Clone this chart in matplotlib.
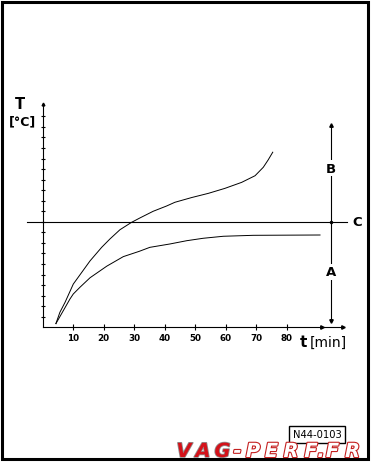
import matplotlib.pyplot as plt
from matplotlib.patches import Rectangle
import matplotlib.patheffects as pe

# values (t in min, T in tick units)
t_upper = [4.3, 5.6, 7.3, 10.0, 12.75, 15.5, 19.3, 22.0, 25.3, 29.1, 31.8, 36.2, 40.6,
           43.3, 48.8, 54.3, 59.7, 65.2, 69.6, 72.3, 73.9, 75.4]
T_upper = [0.35, 1.42, 2.37, 4.1, 5.2, 6.3, 7.58, 8.37, 9.25, 9.95, 10.36, 11.0, 11.5,
           11.85, 12.3, 12.7, 13.17, 13.74, 14.37, 15.17, 15.87, 16.6]
t_lower = [4.3, 8.9, 10.0, 12.2, 15.5, 21.0, 26.4, 31.6, 35.1, 41.7, 47.2, 52.6, 59.2, 69.0, 90.9]
T_lower = [0.35, 2.68, 3.16, 3.8, 4.7, 5.8, 6.7, 7.2, 7.58, 7.9, 8.21, 8.44, 8.63, 8.72, 8.75]
x_ticks = [10, 20, 30, 40, 50, 60, 70, 80]
y_ticks = list(range(1, 21))
level_C = 10
dim_t = 94.4
dim_bottom, dim_top = 0.6, 19.2

W, H = 371, 464
fig = plt.figure(figsize=(W / 100, H / 100), dpi=100)

# outer frame
fig.patches.append(Rectangle((2.3 / W, 4 / H), 366 / W, 457.5 / H, transform=fig.transFigure,
                             fill=False, lw=2.2, ec='black'))

ax = fig.add_axes([42.8 / W, (H - 328.3) / H, 300.4 / W, 223.1 / H])
ax.set_xlim(0, 98.5)
ax.set_ylim(0, 21.15)
for s in ['top', 'right']:
    ax.spines[s].set_visible(False)
for s in ['left', 'bottom']:
    ax.spines[s].set_linewidth(0.8)
ax.patch.set_alpha(0)

ax.set_xticks(x_ticks)
ax.set_xticklabels([str(v) for v in x_ticks], fontsize=6.3, fontweight='bold')
ax.set_yticks(y_ticks)
ax.set_yticklabels([])
ax.tick_params(axis='x', direction='inout', length=4, width=0.8, pad=2)
ax.tick_params(axis='y', direction='inout', length=3.5, width=0.8)

# curves
ax.plot(t_upper, T_upper, color='black', lw=0.7, clip_on=False)
ax.plot(t_lower, T_lower, color='black', lw=0.7, clip_on=False)

# line C
ax.plot([-5.2, 99.7], [level_C, level_C], color='black', lw=0.8, clip_on=False)
ax.text(101.5, level_C, 'C', fontsize=9.5, fontweight='bold', va='center', ha='left')

# dimension line with A and B
ax.plot([dim_t, dim_t], [dim_bottom, dim_top], color='black', lw=0.8, clip_on=False)
ax.plot([dim_t], [dim_top], marker='^', ms=2.5, color='black', clip_on=False)
ax.plot([dim_t], [dim_bottom], marker='v', ms=2.5, color='black', clip_on=False)
ax.plot([dim_t], [level_C], marker='o', ms=1.5, color='black', clip_on=False)
ax.text(dim_t, 15.1, 'B', fontsize=9.5, fontweight='bold', ha='center', va='center',
        bbox=dict(fc='white', ec='none', pad=1))
ax.text(dim_t, 5.25, 'A', fontsize=9.5, fontweight='bold', ha='center', va='center',
        bbox=dict(fc='white', ec='none', pad=1))

# arrows on axes
ax.plot([91.5, 98.5], [0, 0], ls='none', marker='>', ms=2.5, color='black', clip_on=False)
ax.plot([0], [21.15], marker='^', ms=2, color='black', clip_on=False)

# axis titles
fig.text(20 / W, 1 - 105 / H, 'T', fontsize=10.5, fontweight='bold', ha='center', va='center')
fig.text(22 / W, 1 - 122 / H, '[°C]', fontsize=9, fontweight='bold', ha='center', va='center')
fig.text(300 / W, 1 - 343 / H, 't', fontsize=11, fontweight='bold', ha='left', va='center')
fig.text(310 / W, 1 - 343 / H, '[min]', fontsize=10, ha='left', va='center')

# reference code box
fig.text(317 / W, 1 - 435 / H, 'N44-0103', fontsize=7.2, ha='center', va='center',
         bbox=dict(fc='white', ec='black', lw=1.0, boxstyle='square,pad=0.35'))

# logo, letter by letter to get the wide spacing
logo_chars = 'VAG-PERF.FR'
logo_x = [184, 203, 222.5, 237.5, 253, 271.5, 291, 311, 321, 332.5, 352.5]
for i, (ch, x) in enumerate(zip(logo_chars, logo_x)):
    if i < 3:
        t = fig.text(x / W, 1 - 452.5 / H, ch, fontsize=14, fontweight='bold', fontstyle='italic',
                     color='#d4121a', ha='center', va='center')
        t.set_path_effects([pe.withStroke(linewidth=1.2, foreground='#909090')])
    else:
        t = fig.text(x / W, 1 - 452.5 / H, ch, fontsize=14, fontweight='bold', fontstyle='italic',
                     color='white', ha='center', va='center')
        t.set_path_effects([pe.withStroke(linewidth=1.6, foreground='#c42020')])

fig.savefig('out.png', dpi=100)
